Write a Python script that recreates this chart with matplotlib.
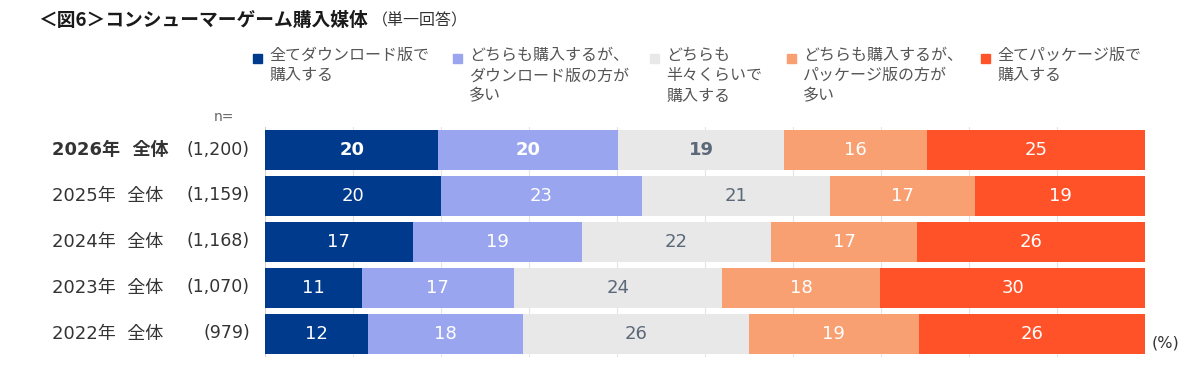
import matplotlib.pyplot as plt
import numpy as np

plt.rcParams['font.family'] = ['DejaVu Sans', 'Noto Sans CJK JP']

# data (widths, labels as printed)
rows = ['2026年  全体', '2025年  全体', '2024年  全体', '2023年  全体', '2022年  全体']
n_labels = ['(1,200)', '(1,159)', '(1,168)', '(1,070)', '(979)']
categories = ['全てダウンロード版で\n購入する',
              'どちらも購入するが、\nダウンロード版の方が\n多い',
              'どちらも\n半々くらいで\n購入する',
              'どちらも購入するが、\nパッケージ版の方が\n多い',
              '全てパッケージ版で\n購入する']
shares = np.array([
    [19.7, 20.4, 18.9, 16.2, 24.8],
    [20.0, 22.8, 21.4, 16.5, 19.3],
    [16.8, 19.2, 21.5, 16.6, 25.9],
    [11.0, 17.3, 23.6, 18.0, 30.1],
    [11.7, 17.6, 25.7, 19.3, 25.7],
])
printed = np.array([
    [20, 20, 19, 16, 25],
    [20, 23, 21, 17, 19],
    [17, 19, 22, 17, 26],
    [11, 17, 24, 18, 30],
    [12, 18, 26, 19, 26],
])

colors = ['#003a8c', '#99a5ee', '#e8e8e8', '#f9a072', '#ff5229']
txt_colors = ['white', 'white', '#5b6878', 'white', 'white']

fig = plt.figure(figsize=(12, 3.75), dpi=100)
ax = fig.add_axes([0.2208, 0.049, 0.7334, 0.613])

y = np.arange(len(rows))
left = np.zeros(len(rows))
for j in range(len(categories)):
    ax.barh(y, shares[:, j], left=left, height=0.87, color=colors[j], zorder=2)
    for i in range(len(rows)):
        bold = (i == 0 and j < 3)
        ax.text(left[i] + shares[i, j] / 2, y[i], str(printed[i, j]),
                ha='center', va='center', fontsize=13, color=txt_colors[j],
                fontweight='bold' if bold else 'normal', zorder=3)
    left += shares[:, j]

ax.set_xlim(0, 100)
ax.set_ylim(4.5, -0.5)
for xv in range(10, 101, 10):
    ax.axvline(xv, color='#e4e4e4', lw=0.8, zorder=1)
ax.axvline(0, color='#d0d0d0', lw=0.8, zorder=1)
for s in ax.spines.values():
    s.set_visible(False)
ax.set_xticks([])
ax.set_yticks([])

# row labels
for i in range(len(rows)):
    yy = 1 - (149.5 + 46 * i) / 375
    wt = 'bold' if i == 0 else 'normal'
    fig.text(52 / 1200, yy, rows[i], ha='left', va='center', fontsize=13,
             color='#333333', fontweight=wt)
    fig.text(250 / 1200, yy, n_labels[i], ha='right', va='center', fontsize=12.5,
             color='#333333')
fig.text(224 / 1200, 1 - 117 / 375, 'n=', ha='center', va='center', fontsize=10,
         color='#666666')
fig.text(1152 / 1200, 1 - 343 / 375, '(%)', ha='left', va='center', fontsize=11.5,
         color='#333333')

# title
fig.text(38 / 1200, 1 - 20 / 375, '＜図6＞コンシューマーゲーム購入媒体', ha='left', va='center',
         fontsize=13.5, fontweight='bold', color='#1a1a1a', family='Noto Sans CJK JP')
fig.text(372 / 1200, 1 - 21 / 375, '（単一回答）', ha='left', va='center',
         fontsize=11.5, color='#333333', family='Noto Sans CJK JP')

# legend
leg_x = [258, 458, 655, 792, 986]
for j, lab in enumerate(categories):
    fig.patches.append(plt.Rectangle(((leg_x[j] - 5) / 1200, 1 - 63 / 375), 9 / 1200, 9 / 375,
                                     transform=fig.transFigure, color=colors[j]))
    fig.text((leg_x[j] + 11) / 1200, 1 - 47 / 375, lab, ha='left', va='top', fontsize=11.5,
             color='#555555', linespacing=1.25, family='Noto Sans CJK JP')

fig.savefig('out.png', dpi=100, facecolor='white')
